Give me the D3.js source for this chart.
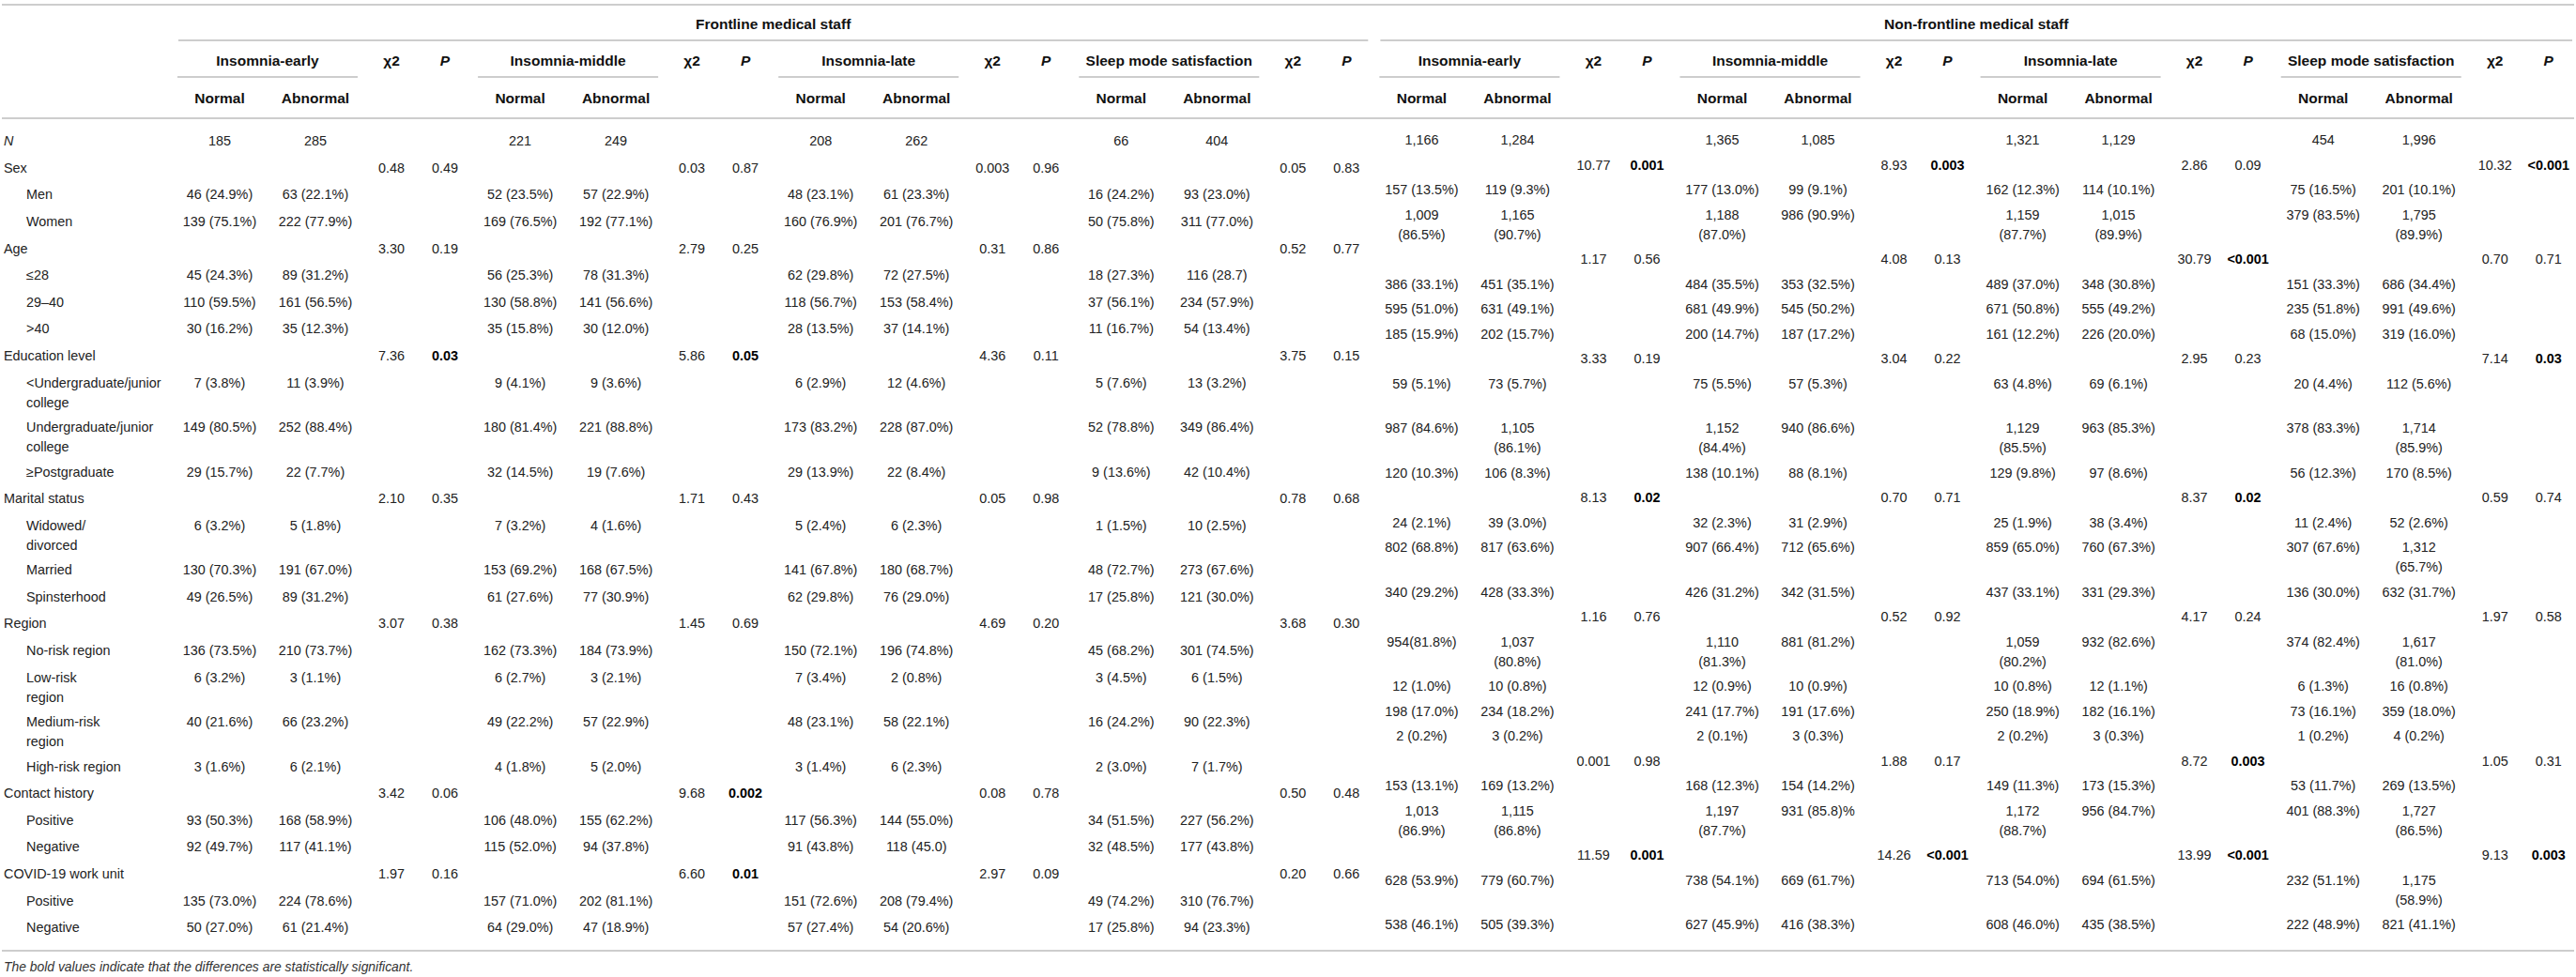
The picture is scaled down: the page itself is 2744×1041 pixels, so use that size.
<!DOCTYPE html>
<html lang="en">
<head>
  <meta charset="UTF-8">
  <title>Sleep quality by group</title>
  <script src="https://d3js.org/d3.v7.min.js"></script>
  <style>
    body { margin: 0; background: #fff; }
    svg text { font-family: "Liberation Sans", Arial, Helvetica, sans-serif; }
  </style>
</head>
<body>
  <svg id="chart"></svg>

  <script>
    // ---- table content ----
    const sections = ["Frontline medical staff", "Non-frontline medical staff"];
    const measures = ["Insomnia-early", "Insomnia-middle", "Insomnia-late", "Sleep mode satisfaction"];
    const subHeads = ["Normal", "Abnormal"];
    const statHeads = ["χ2", "P"];
    const variables = ["Sex", "Age", "Education level", "Marital status", "Region", "Contact history", "COVID-19 work unit"];
    const levels = [
      ["Men", "Women"],
      ["≤28", "29–40", ">40"],
      ["<Undergraduate/junior\ncollege", "Undergraduate/junior\ncollege", "≥Postgraduate"],
      ["Widowed/\ndivorced", "Married", "Spinsterhood"],
      ["No-risk region", "Low-risk\nregion", "Medium-risk\nregion", "High-risk region"],
      ["Positive", "Negative"],
      ["Positive", "Negative"]
    ];
    const footnote = "The bold values indicate that the differences are statistically significant.";

    // first row is N, then one row per level (Normal, Abnormal)
    const frontEarly = [["185", "285"], ["46 (24.9%)", "63 (22.1%)"], ["139 (75.1%)", "222 (77.9%)"],
      ["45 (24.3%)", "89 (31.2%)"], ["110 (59.5%)", "161 (56.5%)"], ["30 (16.2%)", "35 (12.3%)"],
      ["7 (3.8%)", "11 (3.9%)"], ["149 (80.5%)", "252 (88.4%)"], ["29 (15.7%)", "22 (7.7%)"],
      ["6 (3.2%)", "5 (1.8%)"], ["130 (70.3%)", "191 (67.0%)"], ["49 (26.5%)", "89 (31.2%)"],
      ["136 (73.5%)", "210 (73.7%)"], ["6 (3.2%)", "3 (1.1%)"], ["40 (21.6%)", "66 (23.2%)"], ["3 (1.6%)", "6 (2.1%)"],
      ["93 (50.3%)", "168 (58.9%)"], ["92 (49.7%)", "117 (41.1%)"],
      ["135 (73.0%)", "224 (78.6%)"], ["50 (27.0%)", "61 (21.4%)"]];
    const frontMiddle = [["221", "249"], ["52 (23.5%)", "57 (22.9%)"], ["169 (76.5%)", "192 (77.1%)"],
      ["56 (25.3%)", "78 (31.3%)"], ["130 (58.8%)", "141 (56.6%)"], ["35 (15.8%)", "30 (12.0%)"],
      ["9 (4.1%)", "9 (3.6%)"], ["180 (81.4%)", "221 (88.8%)"], ["32 (14.5%)", "19 (7.6%)"],
      ["7 (3.2%)", "4 (1.6%)"], ["153 (69.2%)", "168 (67.5%)"], ["61 (27.6%)", "77 (30.9%)"],
      ["162 (73.3%)", "184 (73.9%)"], ["6 (2.7%)", "3 (2.1%)"], ["49 (22.2%)", "57 (22.9%)"], ["4 (1.8%)", "5 (2.0%)"],
      ["106 (48.0%)", "155 (62.2%)"], ["115 (52.0%)", "94 (37.8%)"],
      ["157 (71.0%)", "202 (81.1%)"], ["64 (29.0%)", "47 (18.9%)"]];
    const frontLate = [["208", "262"], ["48 (23.1%)", "61 (23.3%)"], ["160 (76.9%)", "201 (76.7%)"],
      ["62 (29.8%)", "72 (27.5%)"], ["118 (56.7%)", "153 (58.4%)"], ["28 (13.5%)", "37 (14.1%)"],
      ["6 (2.9%)", "12 (4.6%)"], ["173 (83.2%)", "228 (87.0%)"], ["29 (13.9%)", "22 (8.4%)"],
      ["5 (2.4%)", "6 (2.3%)"], ["141 (67.8%)", "180 (68.7%)"], ["62 (29.8%)", "76 (29.0%)"],
      ["150 (72.1%)", "196 (74.8%)"], ["7 (3.4%)", "2 (0.8%)"], ["48 (23.1%)", "58 (22.1%)"], ["3 (1.4%)", "6 (2.3%)"],
      ["117 (56.3%)", "144 (55.0%)"], ["91 (43.8%)", "118 (45.0)"],
      ["151 (72.6%)", "208 (79.4%)"], ["57 (27.4%)", "54 (20.6%)"]];
    const frontSleep = [["66", "404"], ["16 (24.2%)", "93 (23.0%)"], ["50 (75.8%)", "311 (77.0%)"],
      ["18 (27.3%)", "116 (28.7)"], ["37 (56.1%)", "234 (57.9%)"], ["11 (16.7%)", "54 (13.4%)"],
      ["5 (7.6%)", "13 (3.2%)"], ["52 (78.8%)", "349 (86.4%)"], ["9 (13.6%)", "42 (10.4%)"],
      ["1 (1.5%)", "10 (2.5%)"], ["48 (72.7%)", "273 (67.6%)"], ["17 (25.8%)", "121 (30.0%)"],
      ["45 (68.2%)", "301 (74.5%)"], ["3 (4.5%)", "6 (1.5%)"], ["16 (24.2%)", "90 (22.3%)"], ["2 (3.0%)", "7 (1.7%)"],
      ["34 (51.5%)", "227 (56.2%)"], ["32 (48.5%)", "177 (43.8%)"],
      ["49 (74.2%)", "310 (76.7%)"], ["17 (25.8%)", "94 (23.3%)"]];

    const nonEarly = [["1,166", "1,284"], ["157 (13.5%)", "119 (9.3%)"], ["1,009 (86.5%)", "1,165 (90.7%)"],
      ["386 (33.1%)", "451 (35.1%)"], ["595 (51.0%)", "631 (49.1%)"], ["185 (15.9%)", "202 (15.7%)"],
      ["59 (5.1%)", "73 (5.7%)"], ["987 (84.6%)", "1,105 (86.1%)"], ["120 (10.3%)", "106 (8.3%)"],
      ["24 (2.1%)", "39 (3.0%)"], ["802 (68.8%)", "817 (63.6%)"], ["340 (29.2%)", "428 (33.3%)"],
      ["954(81.8%)", "1,037 (80.8%)"], ["12 (1.0%)", "10 (0.8%)"], ["198 (17.0%)", "234 (18.2%)"], ["2 (0.2%)", "3 (0.2%)"],
      ["153 (13.1%)", "169 (13.2%)"], ["1,013 (86.9%)", "1,115 (86.8%)"],
      ["628 (53.9%)", "779 (60.7%)"], ["538 (46.1%)", "505 (39.3%)"]];
    const nonMiddle = [["1,365", "1,085"], ["177 (13.0%)", "99 (9.1%)"], ["1,188 (87.0%)", "986 (90.9%)"],
      ["484 (35.5%)", "353 (32.5%)"], ["681 (49.9%)", "545 (50.2%)"], ["200 (14.7%)", "187 (17.2%)"],
      ["75 (5.5%)", "57 (5.3%)"], ["1,152 (84.4%)", "940 (86.6%)"], ["138 (10.1%)", "88 (8.1%)"],
      ["32 (2.3%)", "31 (2.9%)"], ["907 (66.4%)", "712 (65.6%)"], ["426 (31.2%)", "342 (31.5%)"],
      ["1,110 (81.3%)", "881 (81.2%)"], ["12 (0.9%)", "10 (0.9%)"], ["241 (17.7%)", "191 (17.6%)"], ["2 (0.1%)", "3 (0.3%)"],
      ["168 (12.3%)", "154 (14.2%)"], ["1,197 (87.7%)", "931 (85.8)%"],
      ["738 (54.1%)", "669 (61.7%)"], ["627 (45.9%)", "416 (38.3%)"]];
    const nonLate = [["1,321", "1,129"], ["162 (12.3%)", "114 (10.1%)"], ["1,159 (87.7%)", "1,015 (89.9%)"],
      ["489 (37.0%)", "348 (30.8%)"], ["671 (50.8%)", "555 (49.2%)"], ["161 (12.2%)", "226 (20.0%)"],
      ["63 (4.8%)", "69 (6.1%)"], ["1,129 (85.5%)", "963 (85.3%)"], ["129 (9.8%)", "97 (8.6%)"],
      ["25 (1.9%)", "38 (3.4%)"], ["859 (65.0%)", "760 (67.3%)"], ["437 (33.1%)", "331 (29.3%)"],
      ["1,059 (80.2%)", "932 (82.6%)"], ["10 (0.8%)", "12 (1.1%)"], ["250 (18.9%)", "182 (16.1%)"], ["2 (0.2%)", "3 (0.3%)"],
      ["149 (11.3%)", "173 (15.3%)"], ["1,172 (88.7%)", "956 (84.7%)"],
      ["713 (54.0%)", "694 (61.5%)"], ["608 (46.0%)", "435 (38.5%)"]];
    const nonSleep = [["454", "1,996"], ["75 (16.5%)", "201 (10.1%)"], ["379 (83.5%)", "1,795 (89.9%)"],
      ["151 (33.3%)", "686 (34.4%)"], ["235 (51.8%)", "991 (49.6%)"], ["68 (15.0%)", "319 (16.0%)"],
      ["20 (4.4%)", "112 (5.6%)"], ["378 (83.3%)", "1,714 (85.9%)"], ["56 (12.3%)", "170 (8.5%)"],
      ["11 (2.4%)", "52 (2.6%)"], ["307 (67.6%)", "1,312 (65.7%)"], ["136 (30.0%)", "632 (31.7%)"],
      ["374 (82.4%)", "1,617 (81.0%)"], ["6 (1.3%)", "16 (0.8%)"], ["73 (16.1%)", "359 (18.0%)"], ["1 (0.2%)", "4 (0.2%)"],
      ["53 (11.7%)", "269 (13.5%)"], ["401 (88.3%)", "1,727 (86.5%)"],
      ["232 (51.1%)", "1,175 (58.9%)"], ["222 (48.9%)", "821 (41.1%)"]];

    // chi-square and P per variable, one list per measure
    const frontChi = [["0.48", "3.30", "7.36", "2.10", "3.07", "3.42", "1.97"],
      ["0.03", "2.79", "5.86", "1.71", "1.45", "9.68", "6.60"],
      ["0.003", "0.31", "4.36", "0.05", "4.69", "0.08", "2.97"],
      ["0.05", "0.52", "3.75", "0.78", "3.68", "0.50", "0.20"]];
    const frontP = [["0.49", "0.19", "0.03", "0.35", "0.38", "0.06", "0.16"],
      ["0.87", "0.25", "0.05", "0.43", "0.69", "0.002", "0.01"],
      ["0.96", "0.86", "0.11", "0.98", "0.20", "0.78", "0.09"],
      ["0.83", "0.77", "0.15", "0.68", "0.30", "0.48", "0.66"]];
    const nonChi = [["10.77", "1.17", "3.33", "8.13", "1.16", "0.001", "11.59"],
      ["8.93", "4.08", "3.04", "0.70", "0.52", "1.88", "14.26"],
      ["2.86", "30.79", "2.95", "8.37", "4.17", "8.72", "13.99"],
      ["10.32", "0.70", "7.14", "0.59", "1.97", "1.05", "9.13"]];
    const nonP = [["0.001", "0.56", "0.19", "0.02", "0.76", "0.98", "0.001"],
      ["0.003", "0.13", "0.22", "0.71", "0.92", "0.17", "<0.001"],
      ["0.09", "<0.001", "0.23", "0.02", "0.24", "0.003", "<0.001"],
      ["<0.001", "0.71", "0.03", "0.74", "0.58", "0.31", "0.003"]];

    // ---- layout ----
    const W = 2744, H = 1041;
    const dataFont = 14.4, headFont = 15.5;
    const ruleColor = "#bdbdbd";
    const textColor = "#222";

    // lines used by each table row (N, variable, levels ...) in the two halves
    const rowLines = [
      [1, 1, 1, 1, 1, 1, 1, 1, 1, 2, 2, 1, 1, 2, 1, 1, 1, 1, 2, 2, 1, 1, 1, 1, 1, 1, 1],
      [1, 1, 1, 2, 1, 1, 1, 1, 1, 2, 2, 1, 1, 1, 2, 1, 1, 2, 1, 1, 1, 1, 1, 2, 1, 2, 1]
    ];
    const rowStep = [{ 1: 28.6, 2: 47.5 }, { 1: 26.5, 2: 47.5 }];
    const rowTop = [150, 149];
    const lineGap = 21;

    const cells = [[frontEarly, frontMiddle, frontLate, frontSleep], [nonEarly, nonMiddle, nonLate, nonSleep]];
    const chis = [frontChi, nonChi];
    const ps = [frontP, nonP];

    // row list shared by both halves
    const rows = [{ kind: "n", d: 0 }];
    let di = 1;
    variables.forEach((v, vi) => {
      rows.push({ kind: "var", v: vi });
      levels[vi].forEach((lv, li) => rows.push({ kind: "lvl", v: vi, l: li, d: di++ }));
    });

    const yScales = rowLines.map((lines, s) => {
      const offs = [0].concat(Array.from(d3.cumsum(lines.slice(0, -1), n => rowStep[s][n])));
      return d3.scaleOrdinal().domain(d3.range(rows.length)).range(offs.map(o => rowTop[s] + o));
    });

    // one group = Normal, Abnormal, chi2, P
    const groupX = d3.scaleLinear().domain([0, 8]).range([234, 234 + 8 * 320.1]);
    const colOff = d3.scaleOrdinal().domain(["normal", "abnormal", "chi", "p"]).range([0, 102, 183, 240]);

    const svg = d3.select("#chart").attr("width", W).attr("height", H);

    function rule(x1, x2, y, w) {
      svg.append("line")
        .attr("x1", x1).attr("x2", x2).attr("y1", y).attr("y2", y)
        .attr("stroke", ruleColor).attr("stroke-width", w || 1.6);
    }

    function put(x, y, str, opt) {
      opt = opt || {};
      const t = svg.append("text")
        .attr("x", x)
        .attr("y", y + (opt.size || dataFont) * 0.36)
        .attr("text-anchor", opt.anchor || "middle")
        .attr("font-size", opt.size || dataFont)
        .attr("font-weight", opt.bold ? "bold" : "normal")
        .attr("font-style", opt.italic ? "italic" : "normal")
        .attr("fill", opt.color || textColor);
      str.split("\n").forEach((line, i) => {
        t.append("tspan").attr("x", x).attr("dy", i === 0 ? 0 : lineGap).text(line);
      });
      return t;
    }

    // wide counts (with thousands separator) break before the percentage
    const wrapCell = s => (s.includes(",") && s.includes(" (")) ? s.replace(" (", "\n(") : s;
    const isSig = p => p.startsWith("<") || +p <= 0.05;

    // rules
    rule(2, W - 2, 5);
    rule(2, W - 2, 126);
    rule(2, W - 2, 1013);
    sections.forEach((name, s) => {
      const x1 = groupX(s * 4) - 44;
      const x2 = s === 0 ? groupX(3) + colOff("p") + 23 : W - 4;
      rule(x1, x2, 43);
      put((x1 + x2) / 2, 25, name, { bold: true, size: headFont, color: "#111" });

      measures.forEach((m, mi) => {
        const g = s * 4 + mi;
        const cx = groupX(g) + colOff("abnormal") / 2;
        rule(cx - 96, cx + 96, 82);
        put(cx, 64, m, { bold: true, size: headFont, color: "#111" });
        put(groupX(g) + colOff("normal"), 104, subHeads[0], { bold: true, size: headFont, color: "#111" });
        put(groupX(g) + colOff("abnormal"), 104, subHeads[1], { bold: true, size: headFont, color: "#111" });
        put(groupX(g) + colOff("chi"), 64, statHeads[0], { bold: true, size: headFont, color: "#111" });
        put(groupX(g) + colOff("p"), 64, statHeads[1], { bold: true, italic: true, size: headFont, color: "#111" });

        const y = yScales[s];
        rows.forEach((r, ri) => {
          if (r.kind === "var") {
            put(groupX(g) + colOff("chi"), y(ri), chis[s][mi][r.v]);
            const p = ps[s][mi][r.v];
            put(groupX(g) + colOff("p"), y(ri), p, { bold: isSig(p), color: isSig(p) ? "#000" : textColor });
          } else {
            const pair = cells[s][mi][r.d];
            put(groupX(g) + colOff("normal"), y(ri), wrapCell(pair[0]));
            put(groupX(g) + colOff("abnormal"), y(ri), wrapCell(pair[1]));
          }
        });
      });
    });

    // row labels (frontline half only)
    rows.forEach((r, ri) => {
      const y = yScales[0](ri);
      if (r.kind === "n") put(4, y, "N", { anchor: "start", italic: true });
      else if (r.kind === "var") put(4, y, variables[r.v], { anchor: "start" });
      else put(28, y, levels[r.v][r.l], { anchor: "start" });
    });

    put(4, 1030, footnote, { anchor: "start", italic: true, size: 13.9, color: "#333" });
  </script>
</body>
</html>
